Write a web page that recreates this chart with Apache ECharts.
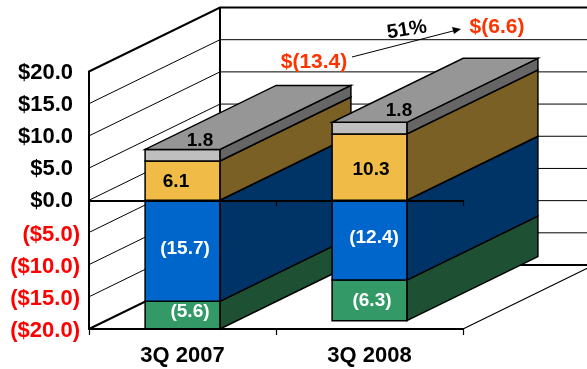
<!DOCTYPE html>
<html>
<head>
<meta charset="utf-8">
<style>html,body{margin:0;padding:0;background:#fff}#chart{width:587px;height:369px}</style>
<script src="https://cdn.jsdelivr.net/npm/echarts@6/dist/echarts.min.js"></script>
</head>
<body>
<div id="chart"></div>
<script>
// Quarterly values, stacked upward (positive) and downward (negative) from zero
const categories = ['3Q 2007', '3Q 2008'];
const greyValues = [1.8, 1.8];
const goldValues = [6.1, 10.3];
const blueValues = [-15.7, -12.4];
const greenValues = [-5.6, -6.3];

// Value axis
const axisMin = -20;
const axisMax = 20;
const axisStep = 5;
const wallTicks = [-20, -15, -10, -5, 0, 5, 10, 15, 20];

// Callouts above the bars
const calloutFrom = '$(13.4)';
const calloutTo = '$(6.6)';
const calloutChange = '51%';

// Oblique projection offset from the front plane to the back wall
const depthX = 131;
const depthY = -64;
const barShare = 0.4;
const edge = '#000';
const family = '"Liberation Sans", Arial, sans-serif';
const font = 'bold 19px ' + family;

const clampValue = v => Math.max(axisMin, Math.min(axisMax, v));
const back = p => [p[0] + depthX, p[1] + depthY];

function stackedRows(values, bases) {
  return values.map((v, i) => [i, bases ? bases[i] : 0, (bases ? bases[i] : 0) + v]);
}

// One stacked segment drawn as an oblique box: side face, front face and optional lid
function segmentSeries(name, rows, values, colors, order, nudges, textFill, capped) {
  return {
    type: 'custom',
    name,
    data: rows,
    z: 3,
    encode: { x: 0, y: [1, 2] },
    renderItem(params, api) {
      const i = api.value(0);
      const a = api.coord([i, clampValue(api.value(1))]);
      const b = api.coord([i, clampValue(api.value(2))]);
      const half = api.size([1, 0])[0] * barShare / 2;
      const low = Math.max(a[1], b[1]);
      const high = Math.min(a[1], b[1]);
      const fl = [a[0] - half, low], fr = [a[0] + half, low];
      const tl = [a[0] - half, high], tr = [a[0] + half, high];
      const z2 = i * 10 + order;
      const face = (pts, fill) => ({
        type: 'polygon',
        z2,
        shape: { points: pts },
        style: { fill, stroke: edge, lineWidth: 1.5, lineJoin: 'miter' }
      });
      const children = [
        face([fr, tr, back(tr), back(fr)], colors.side),
        face([fl, fr, tr, tl], colors.front)
      ];
      if (capped) children.push(face([tl, tr, back(tr), back(tl)], colors.top));
      const v = values[i];
      children.push({
        type: 'text',
        z2: i * 10 + 9,
        style: {
          text: v < 0 ? '(' + Math.abs(v).toFixed(1) + ')' : v.toFixed(1),
          x: a[0] + nudges[i][0],
          y: (low + high) / 2 + nudges[i][1],
          fill: textFill,
          font,
          align: 'center',
          verticalAlign: 'middle'
        }
      });
      return { type: 'group', children };
    }
  };
}

// Side wall, back wall and floor of the chart box, one rule per axis tick
const wallSeries = {
  type: 'custom',
  name: 'walls',
  data: wallTicks.map(t => [0, t]),
  z: 1,
  silent: true,
  encode: { y: 1 },
  renderItem(params, api) {
    const t = api.value(1);
    const sys = params.coordSys;
    const y = api.coord([0, t])[1];
    const left = [sys.x, y];
    const leftBack = back(left);
    const rightBack = [sys.x + sys.width + depthX, y + depthY];
    const heavy = t === axisMin || t === axisMax;
    const stroke = { stroke: edge, lineWidth: heavy ? 2 : 1, fill: null };
    const children = [
      { type: 'polyline', shape: { points: [left, leftBack, rightBack] }, style: stroke }
    ];
    if (t === axisMin) {
      const topY = api.coord([0, axisMax])[1] + depthY;
      children.push(
        { type: 'line', shape: { x1: leftBack[0], y1: leftBack[1], x2: leftBack[0], y2: topY },
          style: { stroke: edge, lineWidth: 2 } },
        { type: 'line', shape: { x1: sys.x + sys.width, y1: y, x2: rightBack[0], y2: rightBack[1] },
          style: { stroke: edge, lineWidth: 1.2 } }
      );
    }
    return { type: 'group', children };
  }
};

const option = {
  animation: false,
  backgroundColor: '#fff',
  textStyle: { fontFamily: family },
  grid: { left: 89, top: 71.5, width: 374, height: 257.5, containLabel: false },
  xAxis: [
    {
      type: 'category',
      data: categories,
      position: 'bottom',
      z: 6,
      axisLine: { onZero: false, lineStyle: { color: edge, width: 2 } },
      axisTick: { show: true, length: 6, lineStyle: { color: edge, width: 1.2 } },
      axisLabel: { color: '#000', fontWeight: 'bold', fontSize: 22, margin: 16, fontFamily: family }
    },
    {
      type: 'category',
      data: categories,
      position: 'bottom',
      z: 6,
      axisLine: { onZero: true, lineStyle: { color: edge, width: 2 } },
      axisTick: { show: true, length: 6, lineStyle: { color: edge, width: 1.2 } },
      axisLabel: { show: false }
    }
  ],
  yAxis: {
    type: 'value',
    min: axisMin,
    max: axisMax,
    interval: axisStep,
    z: 6,
    splitLine: { show: false },
    axisTick: { show: false },
    axisLine: { show: true, onZero: false, lineStyle: { color: edge, width: 2 } },
    axisLabel: {
      margin: 9,
      formatter(v) {
        return v < 0
          ? '{neg|($' + Math.abs(v).toFixed(1) + ')}'
          : '{pos|$' + v.toFixed(1) + '}';
      },
      rich: {
        pos: { color: '#000', fontWeight: 'bold', fontSize: 22, padding: [2, 7, 0, 0], fontFamily: family },
        neg: { color: '#FF0000', fontWeight: 'bold', fontSize: 22, padding: [4, 0, 0, 0], fontFamily: family }
      }
    }
  },
  series: [
    wallSeries,
    segmentSeries('green', stackedRows(greenValues, blueValues), greenValues,
      { front: '#339966', side: '#1E5033' }, 1, [[7.5, -3], [2.5, 0]], '#fff', false),
    segmentSeries('blue', stackedRows(blueValues), blueValues,
      { front: '#0066CC', side: '#003366' }, 2, [[2.5, -2], [4.5, -2]], '#fff', false),
    segmentSeries('gold', stackedRows(goldValues), goldValues,
      { front: '#F0BC47', side: '#7A6024' }, 3, [[-6.5, 1], [1.5, 3]], '#000', false),
    segmentSeries('grey', stackedRows(greyValues, goldValues), greyValues,
      { front: '#BFBFBF', side: '#666666', top: '#969696' }, 4, [[17.5, -14], [29.5, -17]], '#000', true)
  ],
  graphic: [
    { type: 'text', z: 20, style: { text: calloutFrom, x: 314, y: 62, align: 'center', verticalAlign: 'middle', fill: '#FF3300', font: 'bold 21px ' + family } },
    { type: 'text', z: 20, style: { text: calloutTo, x: 497, y: 27, align: 'center', verticalAlign: 'middle', fill: '#FF3300', font: 'bold 21px ' + family } },
    { type: 'text', z: 20, x: 407, y: 30, rotation: 9 * Math.PI / 180, style: { text: calloutChange, x: 0, y: 0, align: 'center', verticalAlign: 'middle', fill: '#000', font: 'bold 20px ' + family } },
    { type: 'line', z: 20, shape: { x1: 352, y1: 57, x2: 455, y2: 30.5 }, style: { stroke: '#000', lineWidth: 1 } },
    { type: 'polygon', z: 20, shape: { points: [[461, 29], [452, 27], [454, 34]] }, style: { fill: '#000' } }
  ]
};

echarts.init(document.getElementById('chart'), null, { renderer: 'canvas' }).setOption(option);
</script>
</body>
</html>
